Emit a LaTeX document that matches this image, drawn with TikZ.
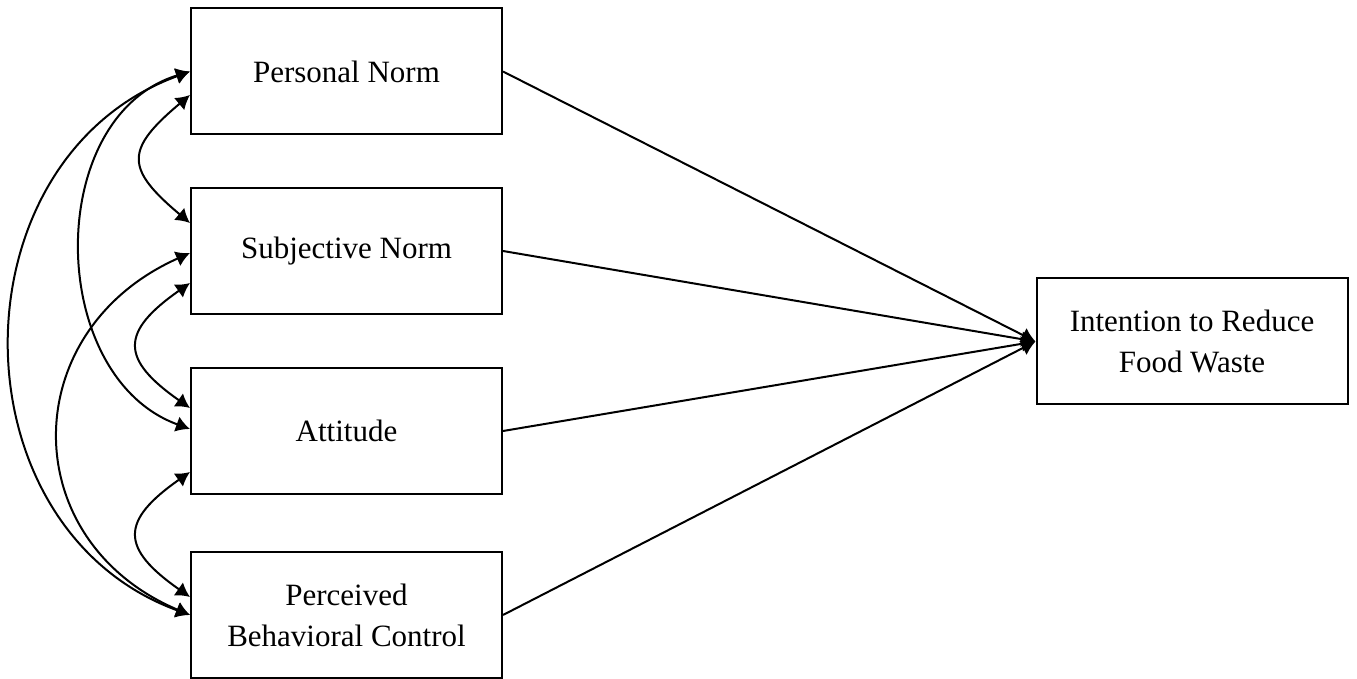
\documentclass[tikz,border=0pt]{standalone}
\usepackage{fontspec}
\setmainfont{Liberation Serif}
\usetikzlibrary{arrows.meta,calc}
\begin{document}
\begin{tikzpicture}[x=0.5pt,y=0.5pt,
  every node/.style = {shape=rectangle,
    draw, line width=1pt, align=center,
    minimum width=155.5pt, minimum height=63pt,
    font=\fontsize{15.5}{20.5}\selectfont},
  path/.style  = {line width=1pt, -{Latex[length=7pt,width=8pt]}},
  corr/.style  = {line width=1pt, {Latex[length=7pt,width=8pt]}-{Latex[length=7pt,width=8pt]}}]
\useasboundingbox (0,0) rectangle (1357,-679);
\node (pn)  at (346.5,-71.5) {Personal Norm};
\node (sn)  at (346.5,-251)  {Subjective Norm};
\node (att) at (346.5,-431)  {Attitude};
\node (pbc) at (346.5,-615)  {Perceived\\Behavioral Control};
\node (irf) at (1192,-341.5) {Intention to Reduce\\Food Waste};
\draw[path] (pn.east)  -- (irf.west);
\draw[path] (sn.east)  -- (irf.west);
\draw[path] (att.east) -- (irf.west);
\draw[path] (pbc.east) -- (irf.west);
\draw[corr] (pn.west) to[out=200,in=160,looseness=1.2] (pbc.west);
\draw[corr] (pn.west) to[out=197,in=160,looseness=1.1] ($(att.west)+(0,2)$);
\draw[corr] ($(pn.west)+(0,-23.5)$) to[out=220,in=140,looseness=1.7] ($(sn.west)+(0,28)$);
\draw[corr] ($(sn.west)+(0,-2)$) to[out=204,in=157,looseness=1.35] (pbc.west);
\draw[corr] ($(sn.west)+(0,-32)$) to[out=215,in=145,looseness=1.75] ($(att.west)+(0,23)$);
\draw[corr] ($(att.west)+(0,-41)$) to[out=215,in=145,looseness=1.75] ($(pbc.west)+(0,18)$);
\end{tikzpicture}
\end{document}
